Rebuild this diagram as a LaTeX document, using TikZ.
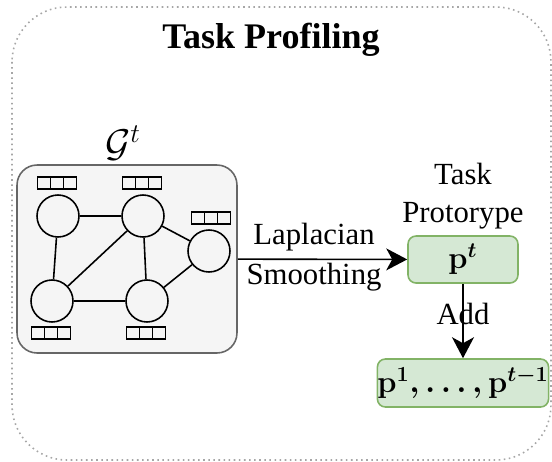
\RequirePackage{fix-cm}
\documentclass[tikz,border=0pt]{standalone}
\usepackage{fontspec}
\setmainfont{Liberation Serif}
\usetikzlibrary{positioning,arrows.meta,calc}
\definecolor{protofill}{HTML}{D5E8D4}
\definecolor{protoline}{HTML}{82B366}
\definecolor{graphfill}{HTML}{F5F5F5}
\definecolor{graphline}{HTML}{666666}
\tikzset{
  outerb/.style={draw=black!35, line width=0.9pt, dash pattern=on 0.9pt off 2pt,
    rounded corners=1.1cm},
  gbox/.style={draw=graphline, fill=graphfill, rounded corners=4mm, line width=0.9pt,
    minimum width=4.4cm, minimum height=3.76cm, inner sep=0pt},
  gnode/.style={circle, draw=black, line width=0.9pt, minimum size=0.84cm, inner sep=0pt},
  gedge/.style={line width=0.9pt, draw=black},
  featv/.style={draw=black, line width=0.9pt, minimum width=0.78cm, minimum height=0.25cm,
    inner sep=0pt,
    path picture={\foreach \k in {1,2}
      \draw[line width=0.9pt]
        ($(path picture bounding box.south west)!\k/3!(path picture bounding box.south east)$)
        -- ($(path picture bounding box.north west)!\k/3!(path picture bounding box.north east)$);}},
  protob/.style={draw=protoline, fill=protofill, rounded corners=1.6mm, line width=0.9pt,
    inner sep=0pt, font=\fontsize{17.5}{21}\selectfont\boldmath},
  flow/.style={-{Stealth[length=4.2mm, width=4.4mm, inset=1.2mm]}, line width=0.9pt, draw=black},
  flab/.style={font=\fontsize{17.5}{22}\selectfont, align=center},
}

\begin{document}
\begin{tikzpicture}[x=0.02cm, y=-0.02cm, font=\fontsize{17.5}{22}\selectfont]
  \useasboundingbox (0,0) rectangle (552,461);
  \draw[outerb] (12,7) rectangle (551,460);
  \node[font=\fontsize{20.5}{24}\selectfont\bfseries, anchor=base] (title) at (271,48) {Task Profiling};

  % task graph
  \node[gbox] (gbox) at (127,259) {};
  \node[font=\fontsize{22}{26}\selectfont] (glab) at (123,143) {$\mathcal{G}^t$};
  \node[gnode] (n1) at (58,216) {};
  \node[gnode] (n2) at (143,216) {};
  \node[gnode] (n3) at (209,251) {};
  \node[gnode] (n4) at (52,301) {};
  \node[gnode] (n5) at (147,301) {};
  \foreach \a/\b in {n1/n2, n1/n4, n2/n4, n2/n5, n2/n3, n3/n5, n4/n5}
    \draw[gedge] (\a) -- (\b);
  \node[featv] (f1) at (57,183) {};
  \node[featv] (f2) at (142,183) {};
  \node[featv] (f3) at (211,218) {};
  \node[featv] (f4) at (51,333) {};
  \node[featv] (f5) at (146,333) {};

  % prototypes
  \node[protob, minimum width=2.2cm, minimum height=0.94cm] (pt) at (463,259.5) {$\mathbf{p}^t$};
  \node[flab, above=0pt of pt, inner sep=3pt] (ptlab) {Task\\Protorype};
  \node[protob, minimum width=3.4cm, minimum height=0.96cm] (prev) at (463,383)
    {$\mathbf{p}^1,\ldots,\mathbf{p}^{t-1}$};

  \draw[flow] (gbox) -- node[flab, above, pos=0.45, inner sep=4.5pt] {Laplacian}
    node[flab, below, pos=0.45, inner sep=2pt] {Smoothing} (pt);
  \draw[flow] (pt) -- node[flab, pos=0.4] {Add} (prev);
\end{tikzpicture}
\end{document}
